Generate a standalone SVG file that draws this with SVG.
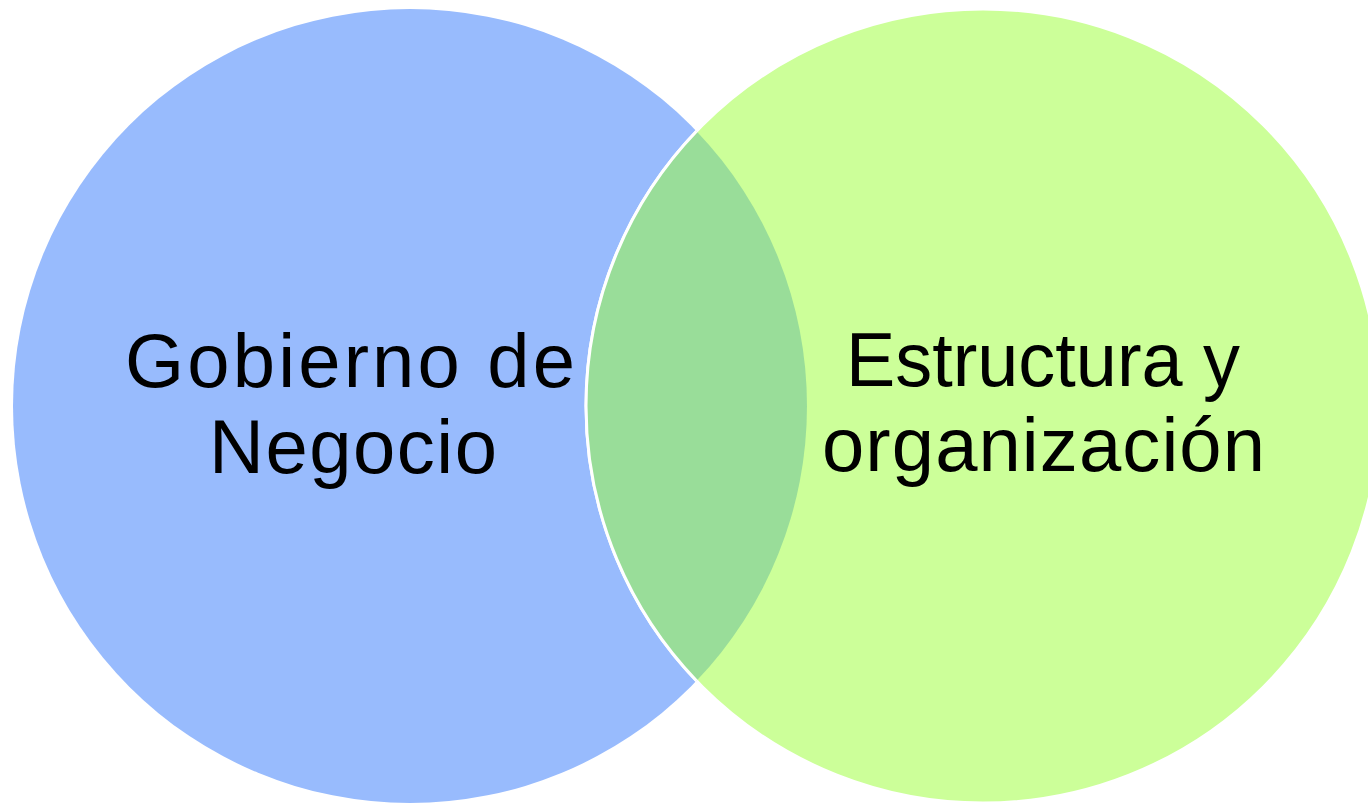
<svg xmlns="http://www.w3.org/2000/svg" width="1368" height="803" viewBox="0 0 1368 803">
<style>
.lbl{font-family:"Liberation Sans",Arial,sans-serif;font-size:76px;fill:#000}
</style>
<rect width="1368" height="803" fill="#fff"/>
<g id="node-gobierno">
<circle cx="410" cy="406" r="397" fill="#98BBFD"/>
</g>
<g id="node-estructura">
<circle cx="983" cy="406" r="397" fill="#CCFF99" stroke="#fff" stroke-width="3"/>
</g>
<g id="overlap">
<path d="M696.5 131.2 A397 397 0 0 0 696.5 680.8 A397 397 0 0 0 696.5 131.2 Z" fill="#99DD99"/>
<path d="M696.5 131.2 A397 397 0 0 0 696.5 680.8" fill="none" stroke="#fff" stroke-width="3"/>
</g>
<g id="labels">
<text class="lbl" x="125" y="387" textLength="450" lengthAdjust="spacing">Gobierno de</text>
<text class="lbl" x="209" y="473" textLength="288" lengthAdjust="spacing">Negocio</text>
<text class="lbl" x="846" y="386" textLength="394" lengthAdjust="spacingAndGlyphs">Estructura y</text>
<text class="lbl" x="822" y="471" textLength="443" lengthAdjust="spacing">organización</text>
</g>
<g id="connectors"></g>
</svg>
